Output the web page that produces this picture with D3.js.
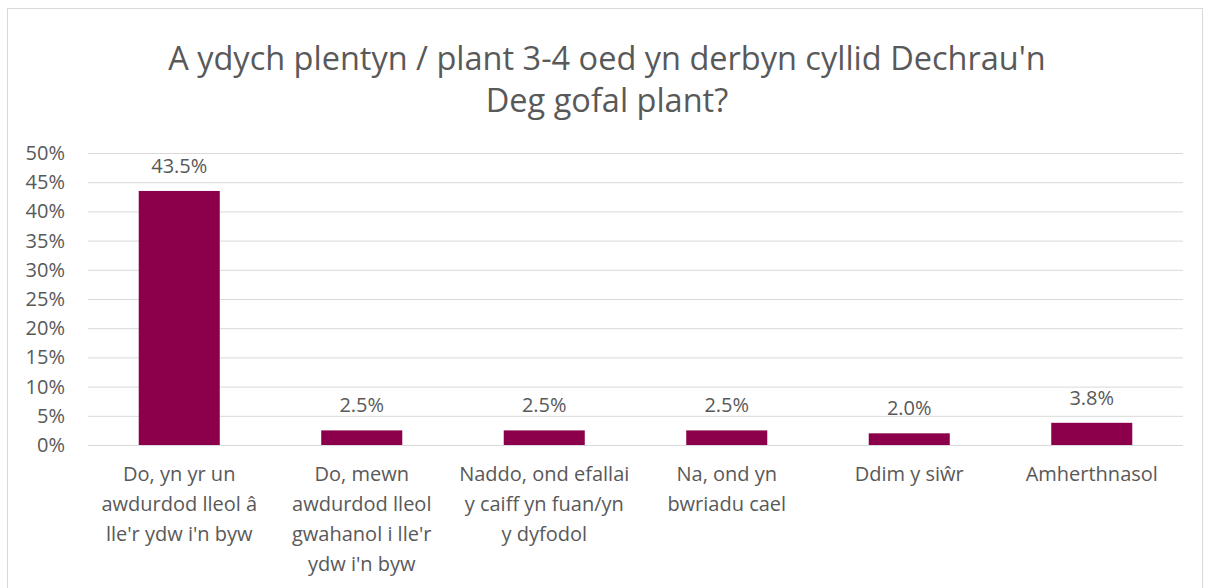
<!DOCTYPE html>
<html>
<head>
<meta charset="utf-8">
<script src="https://cdn.jsdelivr.net/npm/d3@7"></script>
<style>
  body { margin: 0; background: #fff; }
  svg { display: block; font-family: "Open Sans", sans-serif; }
</style>
</head>
<body>
<svg id="chart" width="1209" height="588"></svg>
<script>
const titleLines = ["A ydych plentyn / plant 3-4 oed yn derbyn cyllid Dechrau'n", "Deg gofal plant?"]
const categories = [
    ["Do, yn yr un", "awdurdod lleol â", "lle'r ydw i'n byw"],
    ["Do, mewn", "awdurdod lleol", "gwahanol i lle'r", "ydw i'n byw"],
    ["Naddo, ond efallai", "y caiff yn fuan/yn", "y dyfodol"],
    ["Na, ond yn", "bwriadu cael"],
    ["Ddim y siŵr"],
    ["Amherthnasol"]
]
const values = [43.5, 2.5, 2.5, 2.5, 2.0, 3.8]
const yTicks = [0, 5, 10, 15, 20, 25, 30, 35, 40, 45, 50]

const svg = d3.select("#chart")
const textColor = "#595959"
const labelSize = 20
const margin = { left: 88, right: 26, top: 153, bottom: 143 }
const width = 1209, height = 588

// chart frame
svg.append("rect")
    .attr("x", 7.5).attr("y", 8.5)
    .attr("width", 1195).attr("height", 620)
    .attr("fill", "none").attr("stroke", "#d9d9d9")

svg.append("g").selectAll("text")
    .data(titleLines)
    .join("text")
    .attr("x", 607)
    .attr("y", (d, i) => 70 + i * 42)
    .attr("text-anchor", "middle")
    .attr("fill", textColor)
    .attr("font-size", 32.5)
    .text(d => d)

const x = d3.scaleBand()
    .domain(d3.range(categories.length))
    .range([margin.left, width - margin.right])
    .paddingInner(0.556)
    .paddingOuter(0.278)

const y = d3.scaleLinear()
    .domain([0, 50])
    .range([height - margin.bottom, margin.top])

// gridlines + y labels
const yAxis = svg.append("g")
    .attr("transform", `translate(${margin.left},0)`)
    .call(d3.axisLeft(y)
        .tickValues(yTicks)
        .tickSize(-(width - margin.left - margin.right))
        .tickPadding(23)
        .tickFormat(d => d + "%"))
yAxis.select(".domain").remove()
yAxis.selectAll(".tick line").attr("stroke", "#d9d9d9")
yAxis.selectAll(".tick text")
    .attr("fill", textColor)
    .attr("font-size", labelSize)
    .attr("font-family", "Open Sans, sans-serif")

const band = x.bandwidth()

svg.append("g").selectAll("rect")
    .data(values)
    .join("rect")
    .attr("x", (d, i) => x(i))
    .attr("y", d => y(d))
    .attr("width", band)
    .attr("height", d => y(0) - y(d))
    .attr("fill", "#8c004b")

svg.append("g").selectAll("text")
    .data(values)
    .join("text")
    .attr("x", (d, i) => x(i) + band / 2)
    .attr("y", d => y(d) - 18)
    .attr("text-anchor", "middle")
    .attr("fill", textColor)
    .attr("font-size", labelSize)
    .text(d => d.toFixed(1) + "%")

// category labels
svg.append("g").selectAll("text")
    .data(categories)
    .join("text")
    .attr("text-anchor", "middle")
    .attr("fill", textColor)
    .attr("font-size", labelSize)
    .attr("x", (d, i) => x(i) + band / 2)
    .attr("y", 481)
    .selectAll("tspan")
    .data((d, i) => d.map(line => ({ line, i })))
    .join("tspan")
    .attr("x", d => x(d.i) + band / 2)
    .attr("dy", (d, j) => j === 0 ? 0 : 30)
    .text(d => d.line)
</script>
</body>
</html>
